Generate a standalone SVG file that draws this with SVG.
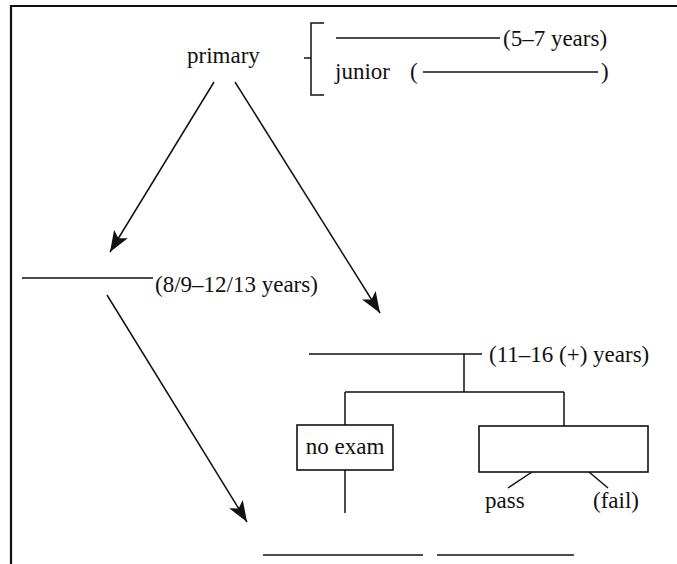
<svg xmlns="http://www.w3.org/2000/svg" width="677" height="564" viewBox="0 0 677 564">
<style>
  text { font-family: "Liberation Serif", "DejaVu Serif", "Times New Roman", serif; font-size: 23px; fill: #111; }
  .ln { stroke: #111; stroke-width: 1.5; fill: none; }
  .box { stroke: #111; stroke-width: 1.6; fill: #fff; }
  .frame { stroke: #111; stroke-width: 2.2; fill: none; }
</style>
<defs>
  <marker id="ah" markerUnits="userSpaceOnUse" markerWidth="22" markerHeight="16" viewBox="0 0 22 16" refX="21" refY="8" orient="auto">
    <path d="M0,0 L21,8 L0,16 L5,8 z" fill="#111"/>
  </marker>
</defs>
<rect width="677" height="564" fill="#fff"/>
<path class="frame" d="M11,564 L11,6 L677,6"/>

<g id="connectors">
  <line class="ln" x1="214" y1="82" x2="110" y2="252" marker-end="url(#ah)"/>
  <line class="ln" x1="235" y1="82" x2="380" y2="313" marker-end="url(#ah)"/>
  <line class="ln" x1="107" y1="295" x2="247" y2="522" marker-end="url(#ah)"/>
  <path class="ln" d="M464,354 L464,392 M345,392 L564,392 M345,392 L345,425 M564,392 L564,426"/>
  <line class="ln" x1="345" y1="470" x2="345" y2="513"/>
  <line class="ln" x1="532" y1="472" x2="508" y2="488"/>
  <line class="ln" x1="589" y1="472" x2="608" y2="488"/>
</g>

<g id="primary">
  <text x="187" y="63">primary</text>
</g>

<g id="infants-junior">
  <path class="ln" d="M324,23 L311,23 L311,95 L324,95 M304,58 L311,58"/>
  <line class="ln" x1="336" y1="38" x2="500" y2="38"/>
  <text x="503" y="46">(5–7 years)</text>
  <text x="335" y="79">junior</text>
  <text x="410" y="79">(</text>
  <line class="ln" x1="423" y1="72" x2="598" y2="72"/>
  <text x="601" y="79">)</text>
</g>

<g id="middle">
  <line class="ln" x1="22" y1="278" x2="153" y2="278"/>
  <text x="155" y="292">(8/9–12/13 years)</text>
</g>

<g id="secondary">
  <line class="ln" x1="309" y1="354" x2="482" y2="354"/>
  <text x="489" y="362">(11–16 (+) years)</text>
</g>

<g id="no-exam">
  <rect class="box" x="297" y="425" width="96" height="45"/>
  <text x="345" y="454" text-anchor="middle">no exam</text>
</g>

<g id="exam">
  <rect class="box" x="479" y="426" width="169" height="46"/>
</g>

<g id="pass">
  <text x="485" y="508">pass</text>
</g>

<g id="fail">
  <text x="593" y="508">(fail)</text>
</g>

<g id="bottom-left">
  <line class="ln" x1="263" y1="555" x2="423" y2="555"/>
</g>
<g id="bottom-right">
  <line class="ln" x1="437" y1="555" x2="574" y2="555"/>
</g>
</svg>
